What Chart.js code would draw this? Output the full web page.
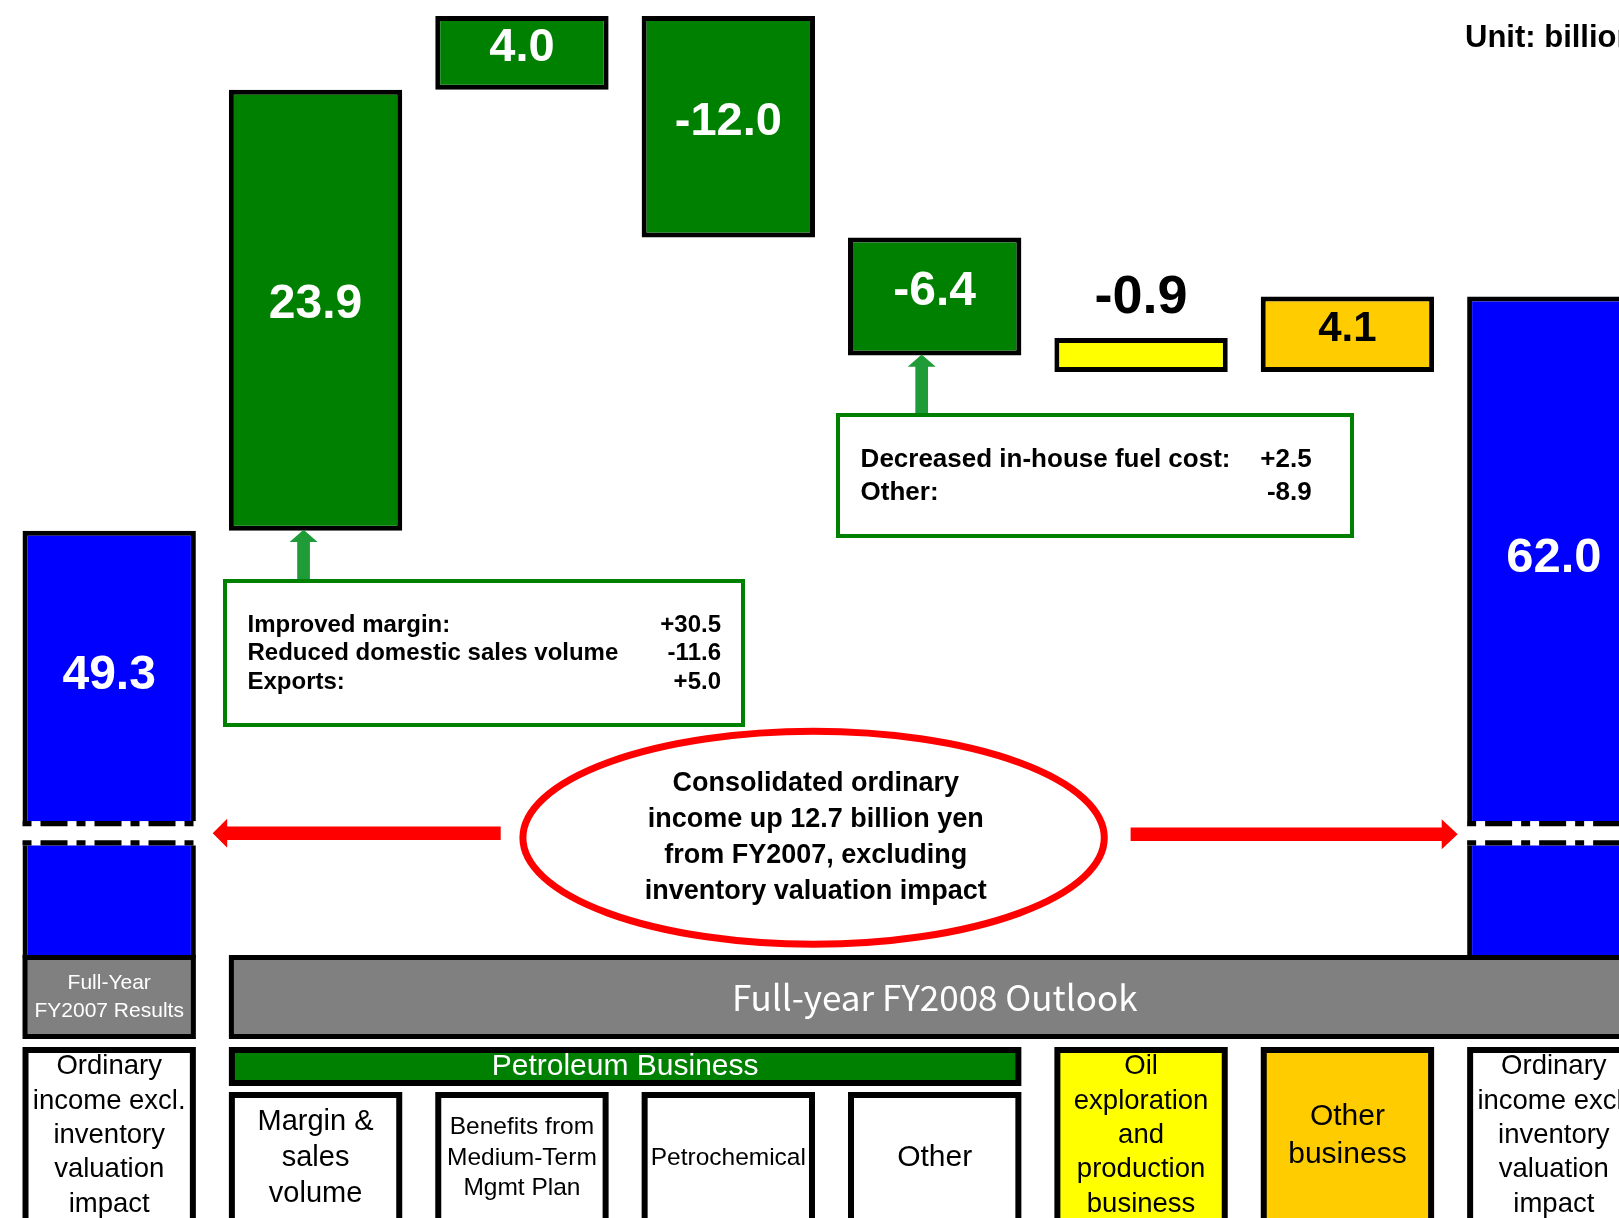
<!DOCTYPE html>
<html>
<head>
<meta charset="utf-8">
<script src="https://cdn.jsdelivr.net/npm/chart.js@4.4.1/dist/chart.umd.min.js"></script>
<style>
html,body{margin:0;padding:0;background:#fff;overflow:hidden;width:1619px;height:1218px;}
#wrap{position:absolute;left:0;top:0;width:1660px;height:1218px;}
canvas{display:block;}
</style>
</head>
<body>
<div id="wrap"><canvas id="c" width="1660" height="1218"></canvas></div>
<script>
// ---------- data ----------
const categories = [
  "Ordinary income excl. inventory valuation impact (FY2007)",
  "Margin & sales volume",
  "Benefits from Medium-Term Mgmt Plan",
  "Petrochemical",
  "Other",
  "Oil exploration and production business",
  "Other business",
  "Ordinary income excl. inventory valuation impact (FY2008)"
];
const categoryLines = [
  ["Ordinary", "income excl.", "inventory", "valuation", "impact"],
  ["Margin &", "sales", "volume"],
  ["Benefits from", "Medium-Term", "Mgmt Plan"],
  ["Petrochemical"],
  ["Other"],
  ["Oil", "exploration", "and", "production", "business"],
  ["Other", "business"],
  ["Ordinary", "income excl.", "inventory", "valuation", "impact"]
];
const changes = [49.3, 23.9, 4.0, -12.0, -6.4, -0.9, 4.1, 62.0];
const isTotal = [true, false, false, false, false, false, false, true];
const valueLabels = ["49.3", "23.9", "4.0", "-12.0", "-6.4", "-0.9", "4.1", "62.0"];
const petroleumMembers = [1, 2, 3, 4];
const baseTitle = ["Full-Year", "FY2007 Results"];
const outlookTitle = "Full-year FY2008 Outlook";
const petroleumTitle = "Petroleum Business";
const marginBreakdown = [
  ["Improved margin:", "+30.5"],
  ["Reduced domestic sales volume", "-11.6"],
  ["Exports:", "+5.0"]
];
const otherBreakdown = [
  ["Decreased in-house fuel cost:", "+2.5"],
  ["Other:", "-8.9"]
];
const summaryLines = [
  "Consolidated ordinary",
  "income up 12.7 billion yen",
  "from FY2007, excluding",
  "inventory valuation impact"
];
const unitText = "Unit: billion yen";

// ---------- styles ----------
const barColors = ['#0000FF', '#008000', '#008000', '#008000', '#008000', '#FFFF00', '#FFCC00', '#0000FF'];
const labelBoxFill = ['#FFFFFF', '#FFFFFF', '#FFFFFF', '#FFFFFF', '#FFFFFF', '#FFFF00', '#FFCC00', '#FFFFFF'];
const labelFontSize = [27.5, 29, 24.5, 24.5, 30, 27.5, 30, 27.5];
const valueFontSize = [48, 48, 47, 47, 48, 54, 42, 49];
const valueColor = ['#fff', '#fff', '#fff', '#fff', '#fff', '#000', '#000', '#fff'];
const SANS = '"Liberation Sans", Arial, Helvetica, sans-serif';
const CJK = '"Noto Sans CJK JP", "Liberation Sans", sans-serif';
const breakValue = 32.9;

// floating bars built from the changes
const floating = [];
let running = 0;
changes.forEach((v, i) => {
  if (isTotal[i]) { floating.push([0, v]); running = v; }
  else { const next = +(running + v).toFixed(1); floating.push([running, next]); running = next; }
});

function rectBox(ctx, x1, y1, x2, y2, fill, border, lw) {
  ctx.fillStyle = border;
  ctx.fillRect(x1, y1, x2 - x1, y2 - y1);
  ctx.fillStyle = fill;
  ctx.fillRect(x1 + lw, y1 + lw, x2 - x1 - 2 * lw, y2 - y1 - 2 * lw);
}
function arrowUp(ctx, x, yTip, yTail, sw, hw, hl, color) {
  ctx.fillStyle = color;
  ctx.beginPath();
  ctx.moveTo(x, yTip);
  ctx.lineTo(x + hw / 2, yTip + hl);
  ctx.lineTo(x + sw / 2, yTip + hl);
  ctx.lineTo(x + sw / 2, yTail);
  ctx.lineTo(x - sw / 2, yTail);
  ctx.lineTo(x - sw / 2, yTip + hl);
  ctx.lineTo(x - hw / 2, yTip + hl);
  ctx.closePath();
  ctx.fill();
}
function arrowH(ctx, xTail, xTip, y, sw, hw, hl, color) {
  const d = xTip > xTail ? 1 : -1;
  const xb = xTip - d * hl;
  ctx.fillStyle = color;
  ctx.beginPath();
  ctx.moveTo(xTail, y - sw / 2);
  ctx.lineTo(xb, y - sw / 2);
  ctx.lineTo(xb, y - hw / 2);
  ctx.lineTo(xTip, y);
  ctx.lineTo(xb, y + hw / 2);
  ctx.lineTo(xb, y + sw / 2);
  ctx.lineTo(xTail, y + sw / 2);
  ctx.closePath();
  ctx.fill();
}

const decor = {
  id: 'decor',
  afterDatasetsDraw(chart) {
    const ctx = chart.ctx;
    const ca = chart.chartArea;
    const ys = chart.scales.y;
    const meta = chart.getDatasetMeta(0);
    const P = meta.data.map(b => {
      const p = b.getProps(['x', 'y', 'base', 'width'], true);
      const top = Math.min(p.y, p.base);
      const bot = Math.min(Math.max(p.y, p.base), ca.bottom);
      return { x: p.x, w: p.width, l: p.x - p.width / 2, r: p.x + p.width / 2, top, bot };
    });
    const yb = ys.getPixelForValue(breakValue);
    ctx.save();

    // axis breaks on the total bars
    P.forEach((p, i) => {
      if (!isTotal[i]) return;
      ctx.fillStyle = '#fff';
      ctx.fillRect(p.l - 1, yb - 12.2, p.w + 2, 24.4);
      ctx.strokeStyle = '#000';
      ctx.lineWidth = 5.2;
      ctx.setLineDash([27, 9, 9, 9]);
      ctx.lineDashOffset = 36;
      [yb - 9.6, yb + 9.6].forEach(yy => {
        ctx.beginPath(); ctx.moveTo(p.l, yy); ctx.lineTo(p.r, yy); ctx.stroke();
      });
      ctx.setLineDash([]);
    });

    // value labels
    ctx.textAlign = 'center';
    ctx.textBaseline = 'middle';
    P.forEach((p, i) => {
      ctx.font = 'bold ' + valueFontSize[i] + 'px ' + SANS;
      ctx.fillStyle = valueColor[i];
      let y;
      if (isTotal[i]) y = (p.top + yb - 12) / 2;
      else if (changes[i] > -1 && changes[i] < 1) y = p.top - 40;
      else y = (p.top + p.bot) / 2 - 5;
      ctx.fillText(valueLabels[i], p.x, y);
    });

    // green arrows + breakdown boxes
    const green = '#1F9B37';
    arrowUp(ctx, P[1].x - 12, P[1].bot - 1, 582, 12.7, 28, 12.4, green);
    arrowUp(ctx, P[4].x - 13, P[4].bot - 1, 416, 12.7, 28, 12.4, green);

    rectBox(ctx, 223, 579, 745, 727, '#fff', '#008000', 4);
    ctx.font = 'bold 24px ' + SANS;
    ctx.fillStyle = '#000';
    marginBreakdown.forEach((r, k) => {
      const y = 625 + k * 28.5;
      ctx.textAlign = 'left'; ctx.fillText(r[0], 247.5, y);
      ctx.textAlign = 'right'; ctx.fillText(r[1], 721, y);
    });

    rectBox(ctx, 836, 413, 1354, 538, '#fff', '#008000', 4);
    ctx.font = 'bold 26px ' + SANS;
    ctx.fillStyle = '#000';
    otherBreakdown.forEach((r, k) => {
      const y = 460 + k * 33;
      ctx.textAlign = 'left'; ctx.fillText(r[0], 860.6, y);
      ctx.textAlign = 'right'; ctx.fillText(r[1], 1311.7, y);
    });

    // red arrows + ellipse
    arrowH(ctx, 500.7, 212.7, yb, 13.4, 29, 14.5, '#FF0000');
    arrowH(ctx, 1130.6, 1457.7, yb + 1, 13.4, 30, 16, '#FF0000');
    ctx.strokeStyle = '#FF0000';
    ctx.lineWidth = 7;
    ctx.beginPath();
    ctx.ellipse(813.6, 837.8, 290.7, 106.5, 0, 0, Math.PI * 2);
    ctx.stroke();
    ctx.font = 'bold 27px ' + SANS;
    ctx.fillStyle = '#000';
    ctx.textAlign = 'center';
    summaryLines.forEach((t, k) => ctx.fillText(t, 815.7, 783.7 + k * 36.1));

    // bottom header bands
    const bandTop = ca.bottom - 3, bandBot = 1039;
    rectBox(ctx, P[0].l, bandTop, P[0].r, bandBot, '#808080', '#000', 5);
    ctx.fillStyle = '#fff';
    ctx.font = '21px ' + SANS;
    baseTitle.forEach((t, k) => ctx.fillText(t, P[0].x, 983 + k * 28));

    rectBox(ctx, P[1].l, bandTop, 1700, bandBot, '#808080', '#000', 5);
    ctx.fillStyle = '#fff';
    ctx.font = '35px ' + CJK;
    ctx.fillText(outlookTitle, (P[1].x + P[7].x) / 2, 998);

    const pl = P[petroleumMembers[0]].l, pr = P[petroleumMembers[petroleumMembers.length - 1]].r;
    rectBox(ctx, pl, 1047, pr, 1086, '#008000', '#000', 6);
    ctx.fillStyle = '#fff';
    ctx.font = '30px ' + SANS;
    ctx.fillText(petroleumTitle, (pl + pr) / 2, 1067);

    // category boxes
    P.forEach((p, i) => {
      const top = petroleumMembers.includes(i) ? 1092 : 1047;
      rectBox(ctx, p.l, top, p.r, 1226, labelBoxFill[i], '#000', 6);
      const fs = labelFontSize[i], lh = fs * 1.25;
      const lines = categoryLines[i];
      const cy = (top + 6 + 1218) / 2;
      ctx.fillStyle = '#000';
      ctx.font = fs + 'px ' + SANS;
      lines.forEach((t, k) => ctx.fillText(t, p.x, cy + (k - (lines.length - 1) / 2) * lh));
    });

    // unit
    ctx.font = 'bold 31px ' + SANS;
    ctx.textAlign = 'left';
    ctx.fillStyle = '#000';
    ctx.fillText(unitText, 1465, 38);
    ctx.restore();
  }
};

new Chart(document.getElementById('c').getContext('2d'), {
  type: 'bar',
  data: {
    labels: categories,
    datasets: [{
      data: floating,
      backgroundColor: barColors,
      borderColor: '#000',
      borderWidth: 5,
      borderSkipped: false,
      barPercentage: 0.84,
      categoryPercentage: 1,
      minBarLength: 34,
      clip: 0
    }]
  },
  options: {
    responsive: false,
    animation: false,
    devicePixelRatio: 1,
    layout: { padding: { left: 6, right: 3, top: 16, bottom: 260 } },
    plugins: { legend: { display: false }, tooltip: { enabled: false }, title: { display: false } },
    scales: {
      x: { display: false },
      y: { display: false, min: 26.14, max: 77.2 }
    }
  },
  plugins: [decor]
});
</script>
</body>
</html>
